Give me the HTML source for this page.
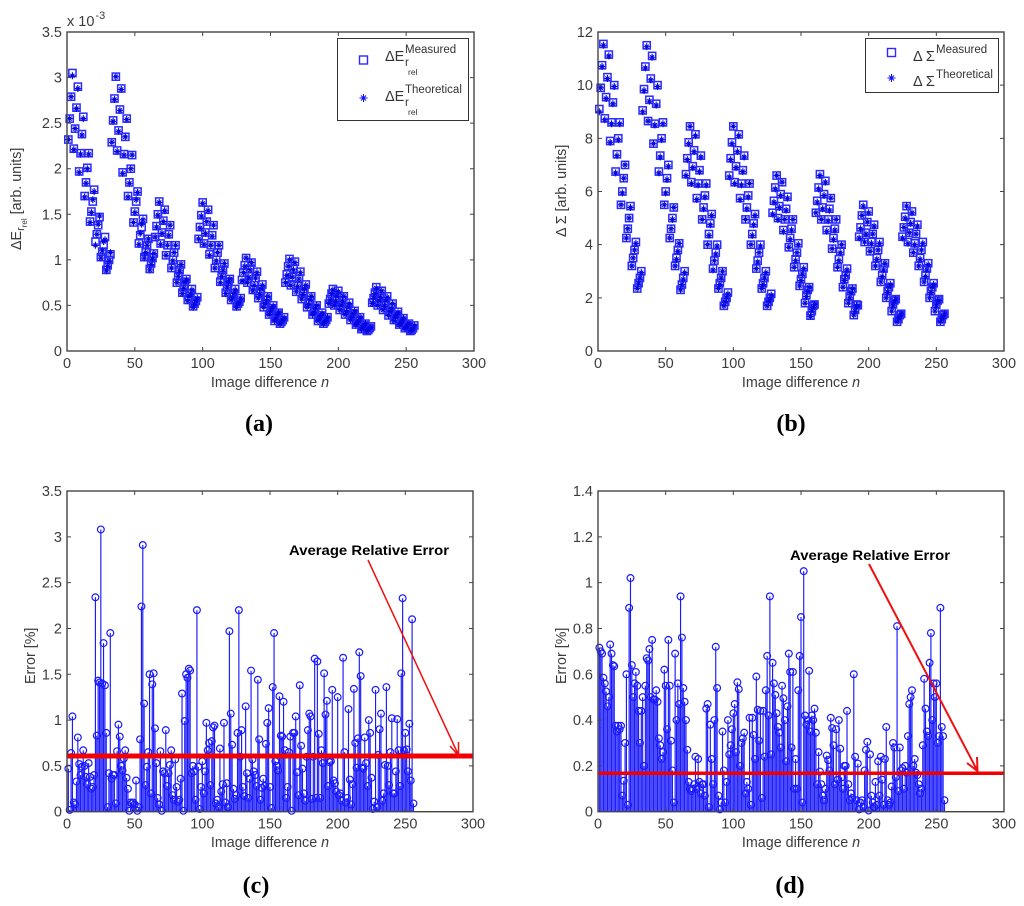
<!DOCTYPE html>
<html lang="en">
<head>
<meta charset="utf-8">
<title>Image difference charts</title>
<style>
html,body{margin:0;padding:0;background:#fff;}
svg{display:block;filter:blur(0.35px);}
.tick{font:14.5px "Liberation Sans",sans-serif;fill:#3c3c3c;}
.lab{font:14.3px "Liberation Sans",sans-serif;fill:#3c3c3c;}
.cap{font:bold 24px "Liberation Serif",serif;fill:#000;}
.ann{font:bold 13.5px "Liberation Sans",sans-serif;fill:#000;}
.leg{font:14.5px "Liberation Sans",sans-serif;fill:#333;}
.legs{font:11.5px "Liberation Sans",sans-serif;fill:#333;}
.legt{font:8.5px "Liberation Sans",sans-serif;fill:#333;}
.frame{fill:none;stroke:#444;stroke-width:1.4;}
</style>
</head>
<body>
<svg id="figure" xmlns="http://www.w3.org/2000/svg" width="1024" height="906" viewBox="0 0 1024 906">
  <rect width="1024" height="906" fill="#fff"/>

  <g id="panel-a">
    <g id="marks-a"></g>
    <rect class="frame" x="67" y="32" width="407" height="319"/>
    <g id="ticks-a"></g>
    <text class="tick" x="67" y="26">x 10<tspan font-size="11" dy="-7" dx="1">-3</tspan></text>
    <text class="lab" x="270" y="387" text-anchor="middle">Image difference <tspan font-style="italic">n</tspan></text>
    <text class="lab" transform="translate(21,250) rotate(-90)">ΔE<tspan font-size="11" dy="3">r</tspan><tspan font-size="8" dy="3">rel</tspan><tspan dy="-6"> [arb. units]</tspan></text>
    <g>
      <rect x="337.5" y="38.5" width="131" height="82" fill="#fff" stroke="#333" stroke-width="1"/>
      <rect x="359.5" y="56" width="8" height="8" fill="none" stroke="#2a2aff" stroke-width="1.4"/>
      <path d="M363.5 94v8M359.5 98h8M361 95.5l5 5M366 95.5l-5 5" fill="none" stroke="#1010f0" stroke-width="1"/>
      <text class="leg" x="385" y="61">ΔE</text>
      <text class="legs" x="405" y="53">Measured</text>
      <text class="legs" x="405" y="66">r</text>
      <text class="legt" x="408" y="75">rel</text>
      <text class="leg" x="385" y="101">ΔE</text>
      <text class="legs" x="405" y="93">Theoretical</text>
      <text class="legs" x="405" y="106">r</text>
      <text class="legt" x="408" y="115">rel</text>
    </g>
    <text class="cap" x="259" y="431" text-anchor="middle">(a)</text>
  </g>

  <g id="panel-b">
    <g id="marks-b"></g>
    <rect class="frame" x="598" y="32" width="406" height="319"/>
    <g id="ticks-b"></g>
    <text class="lab" x="801" y="387" text-anchor="middle">Image difference <tspan font-style="italic">n</tspan></text>
    <text class="lab" transform="translate(566,237) rotate(-90)">Δ Σ [arb. units]</text>
    <g>
      <rect x="865.5" y="38.5" width="133" height="54" fill="#fff" stroke="#333" stroke-width="1"/>
      <rect x="887.5" y="48.5" width="8" height="8" fill="none" stroke="#2a2aff" stroke-width="1.4"/>
      <path d="M891.5 74v8M887.5 78h8M889 75.5l5 5M894 75.5l-5 5" fill="none" stroke="#1010f0" stroke-width="1"/>
      <text class="leg" x="913" y="61">Δ Σ</text>
      <text class="legs" x="936" y="53">Measured</text>
      <text class="leg" x="913" y="86">Δ Σ</text>
      <text class="legs" x="936" y="78">Theoretical</text>
    </g>
    <text class="cap" x="791" y="431" text-anchor="middle">(b)</text>
  </g>

  <g id="panel-c">
    <g id="marks-c"></g>
    <rect class="frame" x="67" y="491" width="406" height="320.7"/>
    <g id="ticks-c"></g>
    <text class="lab" x="270" y="847" text-anchor="middle">Image difference <tspan font-style="italic">n</tspan></text>
    <text class="lab" transform="translate(35,684) rotate(-90)">Error [%]</text>
    <text class="ann" x="289" y="555" textLength="160" lengthAdjust="spacingAndGlyphs">Average Relative Error</text>
    <path d="M368 560L458 754M450 746L458.500 755.500L458.500 742" fill="none" stroke="#f01010" stroke-width="1.500"/>
    <text class="cap" x="256" y="893" text-anchor="middle">(c)</text>
  </g>

  <g id="panel-d">
    <g id="marks-d"></g>
    <rect class="frame" x="598" y="491" width="406" height="320.7"/>
    <g id="ticks-d"></g>
    <text class="lab" x="801" y="847" text-anchor="middle">Image difference <tspan font-style="italic">n</tspan></text>
    <text class="lab" transform="translate(566,684) rotate(-90)">Error [%]</text>
    <text class="ann" x="790" y="560" textLength="160" lengthAdjust="spacingAndGlyphs">Average Relative Error</text>
    <path d="M869 564L977 770M967 763L977.500 771L977 757" fill="none" stroke="#f01010" stroke-width="2"/>
    <text class="cap" x="790" y="893" text-anchor="middle">(d)</text>
  </g>
</svg>

<script>
var xTickValues = [0, 50, 100, 150, 200, 250, 300];
var xTickLabels = ['0', '50', '100', '150', '200', '250', '300'];
var yTicksA = [0, 0.5, 1, 1.5, 2, 2.5, 3, 3.5];
var yLabelsA = ['0', '0.5', '1', '1.5', '2', '2.5', '3', '3.5'];
var yTicksB = [0, 2, 4, 6, 8, 10, 12];
var yLabelsB = ['0', '2', '4', '6', '8', '10', '12'];
var yTicksC = [0, 0.5, 1, 1.5, 2, 2.5, 3, 3.5];
var yLabelsC = ['0', '0.5', '1', '1.5', '2', '2.5', '3', '3.5'];
var yTicksD = [0, 0.2, 0.4, 0.6, 0.8, 1, 1.2, 1.4];
var yLabelsD = ['0', '0.2', '0.4', '0.6', '0.8', '1', '1.2', '1.4'];

var measuredA = [
2.32,2.55,2.79,3.05,2.22,2.44,2.67,2.90,1.97,2.17,2.38,2.57,1.70,1.85,2.01,2.17,1.42,1.53,1.64,1.77,1.20,1.28,1.38,1.47,1.03,1.09,1.16,1.25,.89,.94,1.00,1.06,
2.29,2.53,2.77,3.01,2.20,2.42,2.65,2.88,1.96,2.16,2.35,2.55,1.70,1.85,2.00,2.15,1.41,1.53,1.64,1.75,1.18,1.27,1.36,1.45,1.03,1.09,1.16,1.23,.90,.96,1.02,1.07,
1.25,1.37,1.50,1.64,1.18,1.30,1.43,1.55,1.05,1.16,1.28,1.38,.91,1.00,1.08,1.16,.75,.82,.89,.95,.64,.70,.76,.79,.56,.60,.63,.68,.49,.52,.55,.59,
1.23,1.36,1.49,1.63,1.18,1.30,1.42,1.55,1.06,1.16,1.27,1.38,.91,1.00,1.08,1.16,.76,.83,.89,.96,.64,.70,.76,.79,.56,.60,.63,.68,.49,.52,.54,.58,
.78,.86,.94,1.02,.75,.82,.90,.97,.67,.72,.80,.87,.58,.63,.68,.73,.48,.52,.56,.60,.40,.43,.47,.50,.33,.36,.40,.42,.30,.32,.34,.37,
.75,.84,.93,1.01,.72,.81,.90,.98,.65,.72,.79,.87,.57,.63,.68,.73,.48,.52,.56,.60,.40,.43,.47,.50,.33,.36,.39,.42,.30,.32,.34,.37,
.52,.57,.63,.68,.50,.55,.60,.66,.45,.50,.55,.60,.40,.44,.48,.53,.34,.38,.41,.44,.29,.31,.34,.37,.24,.26,.28,.30,.22,.23,.25,.27,
.53,.58,.64,.70,.50,.55,.60,.66,.45,.50,.55,.60,.39,.43,.47,.52,.34,.37,.40,.43,.29,.31,.33,.36,.25,.27,.28,.30,.22,.23,.25,.28
];
var theoreticalA = [
2.32,2.55,2.79,3.02,2.21,2.44,2.66,2.88,1.96,2.16,2.37,2.55,1.69,1.84,2.00,2.16,1.41,1.52,1.66,1.75,1.16,1.28,1.39,1.48,1.02,1.10,1.20,1.22,.88,.93,.99,1.08,
2.29,2.52,2.76,3.01,2.19,2.41,2.64,2.87,1.95,2.15,2.35,2.54,1.69,1.84,2.00,2.15,1.41,1.52,1.66,1.74,1.17,1.29,1.39,1.44,1.02,1.08,1.16,1.23,.89,.95,1.01,1.07,
1.25,1.36,1.49,1.63,1.17,1.29,1.42,1.54,1.05,1.16,1.27,1.38,.91,.99,1.08,1.16,.75,.82,.88,.95,.63,.69,.76,.78,.55,.60,.62,.67,.48,.51,.55,.58,
1.23,1.35,1.48,1.62,1.17,1.29,1.42,1.54,1.05,1.16,1.26,1.38,.91,.99,1.08,1.16,.75,.82,.89,.96,.63,.70,.76,.79,.56,.59,.63,.67,.48,.52,.53,.58,
.77,.86,.93,1.02,.75,.81,.89,.97,.66,.72,.80,.86,.58,.62,.68,.72,.48,.52,.55,.60,.40,.43,.47,.49,.33,.35,.40,.42,.30,.32,.34,.36,
.75,.83,.93,1.00,.72,.81,.89,.97,.65,.71,.79,.86,.57,.62,.68,.72,.48,.51,.56,.60,.40,.42,.47,.50,.33,.36,.39,.41,.30,.32,.33,.37,
.52,.56,.63,.67,.50,.54,.60,.65,.45,.50,.54,.60,.40,.43,.48,.52,.34,.37,.41,.44,.29,.31,.33,.37,.24,.26,.28,.30,.22,.23,.25,.26,
.52,.58,.63,.69,.50,.55,.59,.66,.45,.49,.55,.59,.39,.43,.46,.52,.33,.37,.40,.42,.29,.30,.33,.36,.25,.26,.28,.30,.22,.23,.24,.28
];
var measuredB = [
9.10,9.90,10.75,11.55,8.75,9.55,10.30,11.15,7.90,8.60,9.35,10.00,6.75,7.40,8.00,8.60,5.50,6.00,6.50,7.00,4.25,4.60,5.00,5.45,3.20,3.50,3.80,4.10,2.35,2.55,2.75,3.00,
9.05,9.85,10.70,11.50,8.65,9.45,10.25,11.10,7.80,8.55,9.30,10.00,6.75,7.35,8.00,8.60,5.50,6.00,6.50,7.00,4.25,4.60,5.00,5.40,3.20,3.50,3.80,4.05,2.30,2.50,2.75,3.00,
6.65,7.25,7.85,8.45,6.35,6.95,7.55,8.15,5.75,6.30,6.80,7.35,4.95,5.40,5.85,6.30,4.00,4.40,4.80,5.15,3.10,3.40,3.70,4.00,2.35,2.55,2.75,3.00,1.70,1.85,2.00,2.20,
6.60,7.25,7.85,8.45,6.35,6.95,7.55,8.15,5.75,6.30,6.80,7.35,4.95,5.40,5.85,6.30,4.00,4.40,4.80,5.15,3.10,3.40,3.70,4.00,2.35,2.55,2.75,3.00,1.70,1.85,2.00,2.15,
5.20,5.65,6.15,6.60,5.00,5.45,5.90,6.35,4.55,4.95,5.35,5.80,3.90,4.25,4.60,4.95,3.15,3.45,3.70,4.05,2.45,2.70,2.90,3.15,1.80,2.10,2.30,2.40,1.33,1.50,1.70,1.75,
5.20,5.65,6.15,6.65,4.95,5.40,5.90,6.40,4.55,4.95,5.35,5.75,3.85,4.25,4.60,4.95,3.15,3.45,3.75,4.00,2.40,2.70,2.85,3.10,1.80,2.05,2.25,2.35,1.35,1.55,1.75,1.72,
4.30,4.65,5.10,5.50,4.10,4.45,4.85,5.25,3.75,4.10,4.40,4.75,3.20,3.50,3.80,4.10,2.60,2.85,3.10,3.30,2.00,2.25,2.40,2.55,1.50,1.75,1.90,1.95,1.10,1.20,1.35,1.40,
4.30,4.65,5.05,5.45,4.10,4.45,4.85,5.25,3.70,4.05,4.40,4.75,3.20,3.50,3.80,4.10,2.60,2.85,3.10,3.30,2.00,2.25,2.40,2.55,1.50,1.75,1.90,1.95,1.10,1.20,1.35,1.40
];
var theoreticalB = [
9.00,9.90,10.70,11.50,8.70,9.50,10.25,11.10,7.85,8.55,9.30,9.95,6.70,7.35,7.95,8.55,5.50,5.95,6.50,7.00,4.25,4.60,5.00,5.40,3.20,3.50,3.80,4.05,2.35,2.55,2.75,2.95,
9.00,9.80,10.65,11.45,8.65,9.40,10.20,11.05,7.80,8.50,9.25,9.95,6.70,7.30,7.95,8.55,5.50,5.95,6.45,6.95,4.25,4.60,4.95,5.40,3.20,3.45,3.75,4.05,2.30,2.50,2.70,2.95,
6.60,7.20,7.80,8.45,6.30,6.90,7.50,8.10,5.70,6.25,6.75,7.30,4.95,5.35,5.80,6.25,4.00,4.35,4.75,5.10,3.05,3.40,3.65,3.95,2.35,2.50,2.75,3.00,1.70,1.85,2.00,2.15,
6.55,7.20,7.80,8.45,6.30,6.90,7.50,8.10,5.70,6.25,6.75,7.30,4.95,5.35,5.80,6.30,4.00,4.35,4.75,5.10,3.10,3.35,3.70,3.95,2.35,2.50,2.75,2.95,1.70,1.85,1.95,2.10,
5.15,5.60,6.10,6.60,4.95,5.40,5.85,6.35,4.50,4.95,5.30,5.75,3.90,4.20,4.55,4.95,3.15,3.40,3.70,4.00,2.45,2.65,2.90,3.10,1.80,2.05,2.25,2.40,1.30,1.50,1.65,1.75,
5.20,5.60,6.10,6.60,4.95,5.35,5.85,6.35,4.50,4.90,5.30,5.75,3.85,4.20,4.55,4.95,3.15,3.40,3.70,4.00,2.40,2.65,2.85,3.05,1.80,2.00,2.20,2.35,1.35,1.50,1.70,1.70,
4.25,4.60,5.10,5.45,4.10,4.40,4.85,5.20,3.75,4.05,4.40,4.70,3.20,3.45,3.80,4.05,2.60,2.80,3.05,3.30,2.00,2.20,2.40,2.50,1.50,1.70,1.85,1.95,1.10,1.20,1.30,1.40,
4.25,4.65,5.00,5.45,4.05,4.45,4.80,5.20,3.70,4.00,4.40,4.70,3.20,3.45,3.80,4.05,2.60,2.80,3.05,3.25,2.00,2.20,2.40,2.50,1.50,1.70,1.90,1.90,1.10,1.20,1.30,1.40
];
var errorC = [
.47,.02,.64,1.04,.10,.08,.33,.81,.52,.40,.49,.67,.50,.38,.30,.53,.38,.25,.27,.40,
2.34,.83,1.43,1.41,3.08,1.40,1.84,1.38,.86,.05,.42,1.95,.36,.40,.40,.09,.66,.95,.82,.50,
.45,.58,.67,.37,.25,.01,.10,.09,.10,.08,.34,.01,.05,.79,2.24,2.91,1.18,.29,.49,.65,
1.50,.20,1.39,1.51,.91,.53,.15,.08,.66,.01,.44,.42,.89,.28,.42,.51,.67,.18,.13,.57,
.27,.11,.13,.36,1.29,.01,.99,1.50,1.46,1.56,1.54,.42,.50,.44,.13,2.20,.49,.03,.27,.55,
.20,.44,.97,.67,.75,.29,.77,.92,.94,.09,.13,.05,.69,.22,.30,.97,.10,.31,.05,1.97,
1.07,.73,.25,.14,.18,.86,2.20,.60,.89,.27,.17,1.15,.42,.15,.36,1.54,.57,.44,.40,.28,
1.44,.79,.13,.26,.36,.28,.74,.97,1.13,.27,.04,1.36,1.95,.55,.50,.45,1.26,.83,.82,1.20,
.67,.15,.27,.65,.82,.01,.86,.86,1.04,.43,.18,1.38,.72,.47,.20,.12,.60,.89,1.07,1.04,
.14,.60,1.67,.15,1.64,.85,.15,.67,.53,1.51,1.06,1.21,.28,.54,.55,1.33,.34,.31,.22,1.25,
.18,.20,.12,1.68,.65,.10,.15,1.12,.35,.08,.30,1.34,.75,.48,.80,1.74,1.48,.48,.47,.81,
.53,.28,1.00,.86,.37,.03,.11,1.33,.05,.62,.90,1.07,.12,.20,.51,1.36,.50,.29,.65,1.02,
.20,.20,.44,1.01,.67,.28,1.51,2.33,.67,.86,.68,.44,.96,.34,2.10,.09
];
var errorD = [
.716,.70,.69,.585,.56,.525,.46,.50,.73,.69,.64,.635,.375,.35,.375,.36,.375,.07,.135,.30,
.60,.03,.89,1.02,.64,.50,.56,.61,.55,.44,.30,.44,.50,.20,.55,.67,.66,.71,.50,.75,
.49,.49,.53,.48,.32,.29,.23,.26,.62,.55,.36,.75,.55,.31,.18,.04,.69,.40,.56,.47,
.94,.76,.54,.48,.40,.27,.13,.10,.09,.10,.12,.24,.10,.23,.13,.08,.12,.12,.07,.45,
.47,.02,.38,.23,.12,.40,.72,.54,.07,.01,.04,.35,.18,.04,.13,.40,.25,.29,.36,.43,
.47,.26,.565,.535,.20,.30,.32,.345,.08,.13,.10,.41,.03,.41,.335,.23,.59,.445,.31,.44,
.06,.44,.24,.53,.68,.42,.94,.25,.65,.56,.51,.43,.37,.345,.28,.55,.495,.40,.22,.46,
.69,.61,.28,.61,.10,.23,.10,.53,.68,.85,.04,1.05,.42,.38,.40,.615,.35,.42,.40,.45,
.345,.12,.26,.175,.12,.07,.05,.10,.245,.225,.18,.41,.365,.29,.12,.36,.14,.40,.275,.15,
.10,.20,.20,.44,.12,.05,.08,.06,.60,.24,.05,.21,.01,.04,.05,.02,.18,.27,.305,.005,
.25,.07,.04,.02,.13,.03,.22,.07,.24,.14,.03,.23,.37,.05,.03,.04,.11,.30,.28,.15,
.81,.09,.28,.18,.19,.10,.20,.17,.33,.47,.50,.53,.20,.23,.17,.16,.12,.08,.10,.29,
.58,.45,.35,.33,.65,.78,.40,.56,.50,.56,.30,.33,.89,.37,.33,.05
];
var averageErrorC = [0.608];
var averageErrorD = [0.168];

var SVGNS = 'http://www.w3.org/2000/svg';

function make(tag, parent) {
  var el = document.createElementNS(SVGNS, tag);
  parent.appendChild(el);
  return el;
}

function linear(d0, d1, r0, r1) {
  return function (v) {
    return r0 + (v - d0) * (r1 - r0) / (d1 - d0);
  };
}

function drawAxes(id, sx, sy, yTicks, yLabels, box) {
  var g = document.getElementById(id);
  var d = '';
  xTickValues.forEach(function (v, i) {
    var x = sx(v);
    if (i > 0 && i < xTickValues.length - 1) {
      d += 'M' + x + ' ' + box.bottom + 'v-4M' + x + ' ' + box.top + 'v4';
    }
    var t = make('text', g);
    
    
    t.setAttribute('class', 'tick');
    t.setAttribute('x', x);
    t.setAttribute('y', box.bottom + 17);
    t.setAttribute('text-anchor', 'middle');
    t.textContent = xTickLabels[i];
  });
  yTicks.forEach(function (v, i) {
    var y = sy(v);
    if (i > 0 && i < yTicks.length - 1) {
      d += 'M' + box.left + ' ' + y + 'h4M' + box.right + ' ' + y + 'h-4';
    }
    var t = make('text', g);
    
    
    t.setAttribute('class', 'tick');
    t.setAttribute('x', box.left - 5);
    t.setAttribute('y', y + 5);
    t.setAttribute('text-anchor', 'end');
    t.textContent = yLabels[i];
  });
  var p = make('path', g);
  
  
  p.setAttribute('d', d);
  p.setAttribute('fill', 'none');
  p.setAttribute('stroke', '#444');
  p.setAttribute('stroke-width', '1');
}

function drawScatter(id, sx, sy, measured, theoretical) {
  var g = document.getElementById(id);
  measured.forEach(function (v, i) {
    var r = make('rect', g);
    
    
    r.setAttribute('x', sx(i + 1) - 3.6);
    r.setAttribute('y', sy(v) - 3.6);
    r.setAttribute('width', 7.2);
    r.setAttribute('height', 7.2);
    r.setAttribute('fill', 'none');
    r.setAttribute('stroke', '#2a2aff');
    r.setAttribute('stroke-width', '1.5');
  });
  theoretical.forEach(function (v, i) {
    var x = sx(i + 1), y = sy(v);
    var s = make('path', g);
    
    
    s.setAttribute('d', 'M' + x + ' ' + (y - 3.5) + 'v7M' + (x - 3) + ' ' + y + 'h6M' + (x - 2) + ' ' + (y - 2) + 'l4 4M' + (x + 2) + ' ' + (y - 2) + 'l-4 4');
    s.setAttribute('fill', 'none');
    s.setAttribute('stroke', '#0606e0');
    s.setAttribute('stroke-width', '1.1');
  });
}

function drawStems(id, sx, sy, values, average, avgWidth) {
  var g = document.getElementById(id);
  values.forEach(function (v, i) {
    var x = sx(i + 1), y = sy(v);
    var l = make('line', g);
    
    
    l.setAttribute('x1', x);
    l.setAttribute('x2', x);
    l.setAttribute('y1', sy(0));
    l.setAttribute('y2', y);
    l.setAttribute('stroke', '#1a1aff');
    l.setAttribute('stroke-width', '1.15');
  });
  values.forEach(function (v, i) {
    var c = make('circle', g);
    
    
    c.setAttribute('cx', sx(i + 1));
    c.setAttribute('cy', sy(v));
    c.setAttribute('r', 3.4);
    c.setAttribute('fill', 'none');
    c.setAttribute('stroke', '#1a1aff');
    c.setAttribute('stroke-width', '1.2');
  });
  var a = make('line', g);
  
  
  a.setAttribute('x1', sx(0));
  a.setAttribute('x2', sx(300));
  a.setAttribute('y1', sy(average[0]));
  a.setAttribute('y2', sy(average[0]));
  a.setAttribute('stroke', '#f00000');
  a.setAttribute('stroke-width', avgWidth);
}

var xA = linear(0, 300, 67, 474);
var yA = linear(0, 3.5, 351, 32);
var xB = linear(0, 300, 598, 1004);
var yB = linear(0, 12, 351, 32);
var xC = linear(0, 300, 67, 473);
var yC = linear(0, 3.5, 811.7, 491);
var xD = linear(0, 300, 598, 1004);
var yD = linear(0, 1.4, 811.7, 491);

drawScatter('marks-a', xA, yA, measuredA, theoreticalA);
drawScatter('marks-b', xB, yB, measuredB, theoreticalB);
drawStems('marks-c', xC, yC, errorC, averageErrorC, 5);
drawStems('marks-d', xD, yD, errorD, averageErrorD, 3.5);

drawAxes('ticks-a', xA, yA, yTicksA, yLabelsA, {left: 67, right: 474, top: 32, bottom: 351});
drawAxes('ticks-b', xB, yB, yTicksB, yLabelsB, {left: 598, right: 1004, top: 32, bottom: 351});
drawAxes('ticks-c', xC, yC, yTicksC, yLabelsC, {left: 67, right: 473, top: 491, bottom: 811.7});
drawAxes('ticks-d', xD, yD, yTicksD, yLabelsD, {left: 598, right: 1004, top: 491, bottom: 811.7});
</script>
</body>
</html>
